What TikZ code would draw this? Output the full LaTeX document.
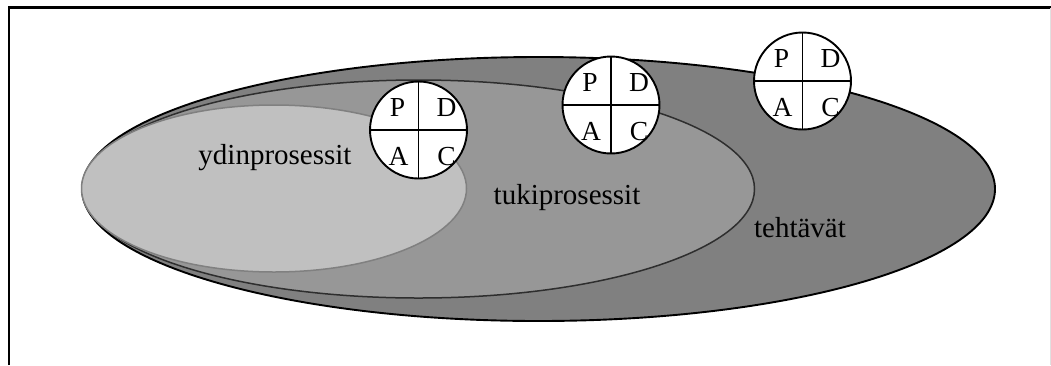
\documentclass[tikz,border=0pt]{standalone}
\usepackage{fontspec}
\setmainfont{Liberation Serif}
\usetikzlibrary{calc}
\definecolor{outergray}{HTML}{808080}
\definecolor{midgray}{HTML}{979797}
\definecolor{innergray}{HTML}{C0C0C0}
\definecolor{rimgray}{HTML}{2E2E2E}
\newcommand\pdcaring[2]{%
  \node[ring] (#1) at (#2) {};
  \draw[ringline] (#1.north) -- (#1.south) (#1.west) -- (#1.east);
  \node[letter] (#1p) at ($(#1)+(-21,-14)$) {P};
  \node[letter] (#1d) at ($(#1)+(28,-14)$) {D};
  \node[letter] (#1a) at ($(#1)+(-20,35)$) {A};
  \node[letter] (#1c) at ($(#1)+(28,35)$) {C};
}
\begin{document}
\begin{tikzpicture}[x=1pt,y=-1pt,
  ring/.style={circle,draw=black,line width=1.9pt,fill=white,minimum size=97pt,inner sep=0pt,outer sep=0pt},
  ringline/.style={line width=1.9pt},
  letter/.style={anchor=base,inner sep=0pt,font=\fontsize{27.5}{31}\selectfont},
  areatext/.style={anchor=base,inner sep=0pt,font=\fontsize{29}{33}\selectfont}]
\useasboundingbox (0,0) rectangle (1051,365);
\fill[white] (0,0) rectangle (1051,365);
% page frame
\draw[line width=2.2pt] (9,365) -- (9,7.5) -- (1051,7.5);
\draw[black!12,line width=1pt] (1050,8) -- (1050,365);
% nested areas
\filldraw[fill=outergray,draw=black,line width=1.9pt] (538.5,189) ellipse [x radius=456.5, y radius=132];
\filldraw[fill=midgray,draw=rimgray,line width=1.5pt] (418.5,189) ellipse [x radius=336, y radius=109];
\filldraw[fill=innergray,draw=black!50,line width=1.5pt] (274,188.5) ellipse [x radius=192.5, y radius=83.5];
% PDCA cycles
\pdcaring{c1}{418.5,130}
\pdcaring{c2}{611,105}
\pdcaring{c3}{802.5,81}
% area names
\node[areatext] (core) at (275,164) {ydinprosessit};
\node[areatext] (support) at (567,204) {tukiprosessit};
\node[areatext] (tasks) at (800,237) {tehtävät};
\end{tikzpicture}
\end{document}
